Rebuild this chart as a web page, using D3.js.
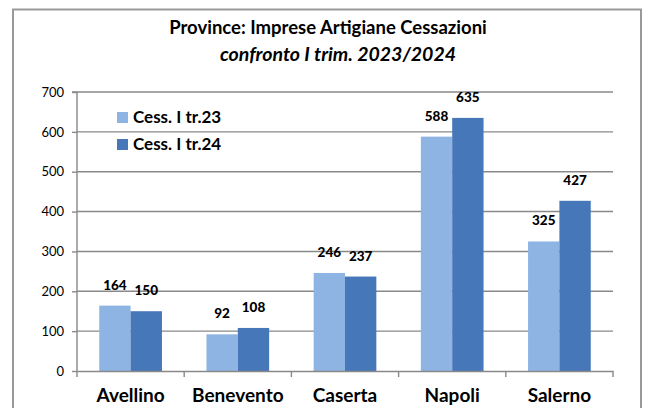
<!DOCTYPE html>
<html>
<head>
<meta charset="utf-8">
<script src="https://cdn.jsdelivr.net/npm/d3@7"></script>
<style>
  body { margin: 0; background: #fff; }
  svg { display: block; font-family: Lato, "Open Sans", sans-serif; }
</style>
</head>
<body>
<svg id="chart" width="649" height="408"></svg>
<script>
// dati
const province = ["Avellino", "Benevento", "Caserta", "Napoli", "Salerno"];
const serie = ["Cess. I tr.23", "Cess. I tr.24"];
const cess23 = [164, 92, 246, 588, 325];
const cess24 = [150, 108, 237, 635, 427];
const yTicks = [0, 100, 200, 300, 400, 500, 600, 700];

const colori = ["#8EB4E3", "#4677B8"];
const grigio = "#898989";

const svg = d3.select("#chart");

// cornice esterna
svg.append("rect")
    .attr("x", 13).attr("y", 9.5)
    .attr("width", 628).attr("height", 420)
    .attr("fill", "none")
    .attr("stroke", "#999")
    .attr("stroke-width", 2);

// titolo
svg.append("text")
    .attr("x", 328).attr("y", 34)
    .attr("text-anchor", "middle")
    .attr("font-size", 18.5).attr("font-weight", "bold")
    .text("Province: Imprese Artigiane Cessazioni");
svg.append("text")
    .attr("x", 338).attr("y", 61)
    .attr("text-anchor", "middle")
    .attr("font-size", 19.5).attr("font-style", "italic").attr("font-weight", "bold")
    .text("confronto I trim. 2023/2024");

const mLeft = 77, mRight = 613, mTop = 92, mBottom = 371;

const x = d3.scaleBand().domain(province).range([mLeft, mRight]).paddingInner(0).paddingOuter(0);
const x1 = d3.scaleBand().domain(serie).range([0, x.bandwidth()]).paddingInner(0).paddingOuter(0.71);
const y = d3.scaleLinear().domain([0, 700]).range([mBottom, mTop]);

// griglia
svg.append("g").selectAll("line")
    .data(yTicks.filter(d => d > 0))
    .join("line")
    .attr("x1", mLeft).attr("x2", mRight)
    .attr("y1", d => y(d)).attr("y2", d => y(d))
    .attr("stroke", grigio).attr("stroke-width", 1.4);

// asse y
const yAxis = svg.append("g")
    .attr("transform", `translate(${mLeft},0)`)
    .call(d3.axisLeft(y).tickValues(yTicks).tickSize(5).tickPadding(8));
yAxis.selectAll("line, path").attr("stroke", grigio).attr("stroke-width", 1.4);
yAxis.select("path").attr("d", `M-5,${mTop}H0V${mBottom}`);
yAxis.selectAll("text").attr("font-size", 13).attr("fill", "#000")
    .attr("font-family", "Lato, sans-serif");

// barre
const gruppi = svg.append("g").selectAll("g")
    .data(province)
    .join("g")
    .attr("transform", d => `translate(${x(d)},0)`);

const valori = (p, i) => [cess23[i], cess24[i]].map((v, k) => ({ serie: serie[k], v, k }));

gruppi.selectAll("rect")
    .data(valori)
    .join("rect")
    .attr("x", d => x1(d.serie))
    .attr("width", x1.bandwidth())
    .attr("y", d => y(d.v))
    .attr("height", d => y(0) - y(d.v))
    .attr("fill", d => colori[d.k]);

gruppi.selectAll("text")
    .data(valori)
    .join("text")
    .attr("x", d => x1(d.serie) + x1.bandwidth() / 2)
    .attr("y", d => y(d.v) - 16)
    .attr("text-anchor", "middle")
    .attr("font-size", 13.5).attr("font-weight", 900)
    .text(d => d.v);

// asse x
const xAxis = svg.append("g")
    .attr("transform", `translate(0,${mBottom})`)
    .call(d3.axisBottom(x).tickSize(0).tickPadding(18));
xAxis.select("path").attr("stroke", grigio).attr("stroke-width", 1.4);
xAxis.selectAll("text").attr("font-size", 19).attr("font-weight", "bold").attr("fill", "#000")
    .attr("font-family", "Lato, sans-serif");
svg.append("g").selectAll("line")
    .data(d3.range(province.length + 1))
    .join("line")
    .attr("x1", i => mLeft + i * x.bandwidth()).attr("x2", i => mLeft + i * x.bandwidth())
    .attr("y1", mBottom).attr("y2", mBottom + 6)
    .attr("stroke", grigio).attr("stroke-width", 1.4);

// legenda
const leg = svg.append("g").selectAll("g")
    .data(serie)
    .join("g")
    .attr("transform", (d, i) => `translate(117,${112 + i * 27})`);
leg.append("rect").attr("width", 11).attr("height", 11).attr("fill", (d, i) => colori[i]);
leg.append("text")
    .attr("x", 16).attr("y", 11)
    .attr("font-size", 17).attr("font-weight", "bold")
    .text(d => d);
</script>
</body>
</html>
